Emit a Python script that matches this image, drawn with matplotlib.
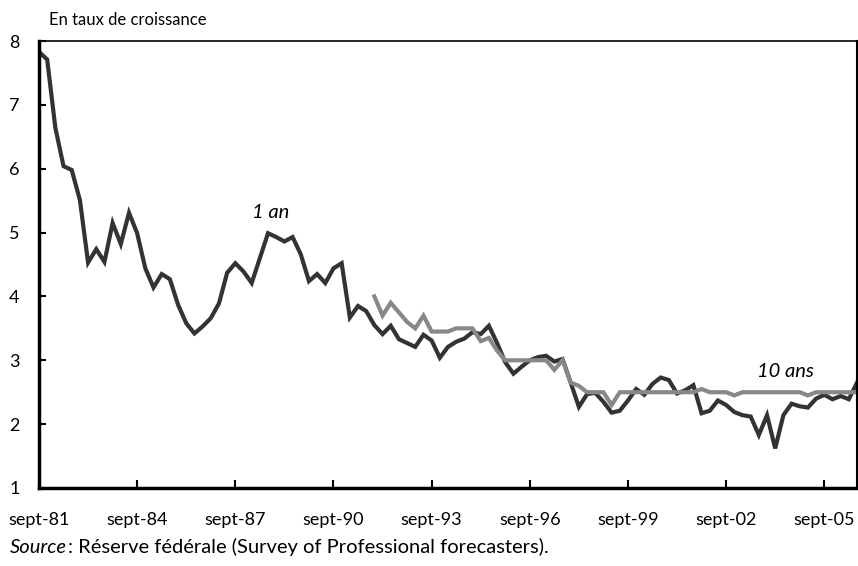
import matplotlib
matplotlib.use('Agg')
import matplotlib.pyplot as plt

plt.rcParams['font.family'] = ['Lato', 'DejaVu Sans']

# quarterly data, index 0 = sept-81
one_year = [7.83, 7.71, 6.64, 6.04, 5.98, 5.51, 4.53, 4.74, 4.54, 5.15,
            4.82, 5.31, 4.99, 4.44, 4.14, 4.35, 4.27, 3.87, 3.58, 3.42,
            3.53, 3.66, 3.89, 4.37, 4.52, 4.39, 4.21, 4.60, 4.99, 4.93,
            4.86, 4.93, 4.66, 4.24, 4.35, 4.21, 4.44, 4.52, 3.67, 3.85,
            3.77, 3.55, 3.41, 3.54, 3.33, 3.27, 3.21, 3.40, 3.31, 3.04,
            3.21, 3.29, 3.34, 3.44, 3.41, 3.54, 3.27, 2.97, 2.79, 2.90,
            3.00, 3.05, 3.07, 2.98, 3.02, 2.65, 2.27, 2.47, 2.49, 2.35,
            2.18, 2.21, 2.37, 2.55, 2.46, 2.63, 2.73, 2.69, 2.48, 2.53,
            2.61, 2.17, 2.21, 2.37, 2.30, 2.19, 2.14, 2.12, 1.83, 2.14,
            1.62, 2.14, 2.32, 2.28, 2.26, 2.40, 2.46, 2.39, 2.44, 2.39,
            2.65]

# 10-year series starts later (index 41)
ten_start = 41
ten_years = [4.0, 3.7, 3.9, 3.75, 3.6, 3.5, 3.7, 3.45, 3.45, 3.45,
             3.5, 3.5, 3.5, 3.3, 3.35, 3.15, 3.0, 3.0, 3.0, 3.0,
             3.0, 3.0, 2.85, 3.0, 2.65, 2.6, 2.5, 2.5, 2.5, 2.3,
             2.5, 2.5, 2.5, 2.5, 2.5, 2.5, 2.5, 2.5, 2.5, 2.5,
             2.55, 2.5, 2.5, 2.5, 2.45, 2.5, 2.5, 2.5, 2.5, 2.5,
             2.5, 2.5, 2.5, 2.45, 2.5, 2.5, 2.5, 2.5, 2.5, 2.5]

tick_labels = ['sept-81', 'sept-84', 'sept-87', 'sept-90', 'sept-93',
               'sept-96', 'sept-99', 'sept-02', 'sept-05']

fig = plt.figure(figsize=(8.58, 5.66), dpi=100)
ax = fig.add_axes([39 / 858, 1 - 488 / 566, 818 / 858, 447 / 566])

x1 = list(range(len(one_year)))
x10 = list(range(ten_start, ten_start + len(ten_years)))
ax.plot(x1, one_year, color='#333333', lw=3.0, solid_joinstyle='miter')
ax.plot(x10, ten_years, color='#888888', lw=3.0, solid_joinstyle='miter')

ax.set_xlim(0, 100)
ax.set_ylim(1, 8)
ax.set_xticks(range(0, 12 * len(tick_labels), 12))
ax.set_xticklabels(tick_labels)
ax.set_yticks(range(1, 9))

ax.tick_params(axis='x', direction='in', length=6, width=1.5, pad=17,
               labelsize=13, colors='black')
ax.tick_params(axis='y', direction='in', length=5, width=1.5, pad=14,
               labelsize=13)

ax.spines['left'].set_linewidth(2.5)
ax.spines['bottom'].set_linewidth(2.5)
ax.spines['top'].set_linewidth(1.2)
ax.spines['right'].set_linewidth(1.5)

ax.text(28.3, 5.31, '1 an', style='italic', fontsize=14.5,
        ha='center', va='center')
ax.text(91.2, 2.82, '10 ans', style='italic', fontsize=14.5,
        ha='center', va='center')

fig.text(49 / 858, 1 - 20 / 566, 'En taux de croissance', fontsize=12,
         va='center')

# source line: italic word followed by the rest
src = fig.text(10 / 858, 1 - 556 / 566, 'Source', style='italic',
               fontsize=14.5, va='bottom')
ax.annotate(': Réserve fédérale (Survey of Professional forecasters).',
            xy=(1, 0), xycoords=src, xytext=(1, 0),
            textcoords='offset points', fontsize=14.5, va='bottom',
            annotation_clip=False)

fig.savefig('out.png', dpi=100)
